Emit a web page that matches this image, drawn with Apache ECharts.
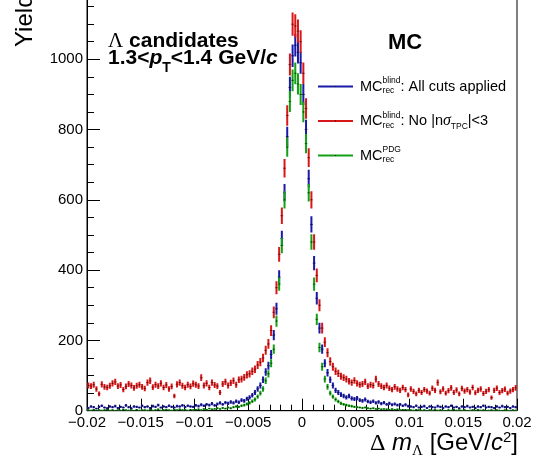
<!DOCTYPE html>
<html><head><meta charset="utf-8">
<script src="https://cdn.jsdelivr.net/npm/echarts@6/dist/echarts.min.js"></script>
<style>html,body{margin:0;padding:0;background:#fff}#c{width:537px;height:466px}</style>
</head><body><div id="c"></div>
<script>
// ---- data ----
const binLow = -0.02, binWidth = 0.00025;
const xTickLabels = ['\u22120.02','\u22120.015','\u22120.01','\u22120.005','0','0.005','0.01','0.015','0.02'];
const yTickLabels = ['0','200','400','600','800','1000',''];
const blueVals = [
 8,12,10,6,11,14,9,7,12,10, 13,8,11,9,15,10,7,12,11,9, 14,10,12,8,13,11,16,9,12,10, 14,11,9,13,12,15,10,14,12,11,
 15,13,17,14,18,16,20,15,19,22, 18,23,21,25,22,27,24,30,28,34,
 38,44,52,62,72,88,110,128,160,215, 290,380,490,620,780,920,1010,1040,1020,990, 900,800,660,530,420,320,235,175,135,108, 88,72,58,52,46,42,
 38,42,35,33,36,30,28,32,26,24, 27,22,25,20,23,18,21,17,19,16, 18,14,17,13,
 12,10,14,9,11,13,8,12,10,9, 13,11,8,12,10,14,9,11,7,12, 10,13,9,11,8,12,10,14,9,11, 10,8,12,9,13,10,11,8,12,10
];
const redVals = [
 72,70,74,62,48,75,68,66,71,78, 82,70,73,60,69,76,72,65,71,74, 68,63,80,85,67,74,70,78,66,73, 62,69,42,75,80,71,66,74,69,77,
 74,70,94,72,78,66,80,73,70,52, 76,82,72,79,85,74,88,90,95,102,
 105,112,118,130,138,150,172,190,228,280, 350,445,555,690,840,985,1100,1095,1080,1050, 960,860,720,600,480,385,300,235,195,165, 140,125,112,106,98,94,
 90,84,80,86,78,74,76,82,70,74, 72,90,76,70,66,72,64,60,68,62, 58,66,60,45,
 62,55,48,58,52,60,56,50,64,58, 80,54,62,50,57,65,52,59,48,63, 56,60,53,66,51,58,62,49,55,60, 37,58,64,52,57,61,50,56,60,65
];
const greenVals = [
 2,1,3,0,2,1,2,3,1,2, 0,2,1,3,2,1,2,0,3,1, 2,2,1,3,1,2,4,1,2,3, 2,1,3,2,4,2,3,1,3,2,
 3,4,2,5,3,6,4,5,7,5, 8,6,9,7,10,12,11,14,16,19,
 22,27,32,40,50,62,85,105,135,175, 255,360,470,600,750,880,940,960,930,900, 850,760,620,480,360,260,180,125,90,68, 50,40,32,26,21,18,
 16,14,13,11,10,9,8,9,7,6, 7,5,6,4,5,4,3,5,3,4, 2,3,3,2,
 2,1,3,2,1,2,0,2,1,3, 1,2,1,0,2,1,3,1,2,1, 2,0,1,2,1,3,1,2,0,1, 2,1,2,1,0,2,1,1,2,1
];
const seriesNames = ['All cuts applied', 'No n sigma TPC cut', 'PDG'];
const colors = {blue:'#1a1aa8', red:'#d81818', green:'#14a014'};

// ---- helpers ----
function toData(vals){
  return vals.map((v,i)=>[binLow + (i+0.5)*binWidth, v, Math.sqrt(v)]);
}
function makeRender(color){
  return function(params, api){
    const x = api.value(0), y = api.value(1), e = api.value(2);
    const c = api.coord([x, y]);
    const t = api.coord([x, y + e]);
    const b = api.coord([x, y - e]);
    const hw = api.size([binWidth, 0])[0] / 2;
    return {type:'group', children:[
      {type:'line', shape:{x1:c[0], y1:t[1], x2:c[0], y2:b[1]}, style:{stroke:color, lineWidth:2}},
      {type:'line', shape:{x1:c[0]-hw, y1:c[1], x2:c[0]+hw, y2:c[1]}, style:{stroke:color, lineWidth:1}},
      {type:'rect', shape:{x:c[0]-0.5, y:c[1]-0.5, width:1, height:1}, style:{fill:'#111'}}
    ]};
  };
}
const mctx = document.createElement('canvas').getContext('2d');
function fontStr(p){ return (p.style||'normal')+' '+(p.weight||'normal')+' '+p.size+'px '+(p.family||'"Liberation Sans"'); }
function measure(p){ mctx.font = fontStr(p); return mctx.measureText(p.t).width; }
function run(pieces, x0){
  let x = x0; const out = [];
  for (const p of pieces){
    out.push({type:'text', x:x, y:p.y, silent:true, style:{text:p.t, font:fontStr(p), fill:'#000', align:'left', verticalAlign:'middle'}});
    const w = measure(p);
    if (!p.noAdv) { x += Math.max(w, p.minW||0); }
  }
  return out;
}
function runWidth(pieces){ let w=0; for(const p of pieces){ if(!p.noAdv) w+=Math.max(measure(p), p.minW||0);} return w; }

const SERIF = '"Liberation Serif"';
const graphics = [];
// Lambda candidates block
graphics.push(...run([
  {t:'\u039B', size:21, family:SERIF, y:41},
  {t:' candidates', size:21, weight:'bold', y:41}
], 108));
graphics.push(...run([
  {t:'1.3<', size:21, weight:'bold', y:58.5},
  {t:'p', size:21, weight:'bold', style:'italic', y:58.5},
  {t:'T', size:14, weight:'bold', y:68.5},
  {t:'<1.4 GeV/', size:21, weight:'bold', y:58.5},
  {t:'c', size:21, weight:'bold', style:'italic', y:58.5}
], 108));
graphics.push(...run([{t:'MC', size:22, weight:'bold', y:42.5}], 388));

// legend
function legendEntry(yMid, supText, tail){
  const wSup = measure({t:supText,size:8.5}), wRec = measure({t:'rec',size:8.5});
  const pieces = [
    {t:'MC', size:14.5, y:yMid},
    {t:supText, size:8.5, y:yMid-5.5, noAdv:true},
    {t:'rec', size:8.5, y:yMid+4.5, minW:Math.max(wSup,wRec)}
  ].concat(tail.map(p=>Object.assign({}, p, {y: yMid + (p.dy||0)})));
  return run(pieces, 360);
}
graphics.push(...legendEntry(86.5, 'blind', [{t:': All cuts applied', size:14.5}]));
graphics.push(...legendEntry(121, 'blind', [
  {t:': No |n', size:14.5},
  {t:'\u03C3', size:16, family:SERIF, style:'italic'},
  {t:'TPC', size:8.5, dy:6},
  {t:'|<3', size:14.5}
]));
graphics.push(...legendEntry(155.5, 'PDG', []));
[[86.5,colors.blue],[121,colors.red],[155.5,colors.green]].forEach(([y,c])=>{
  graphics.push({type:'line', silent:true, shape:{x1:318,y1:y,x2:353,y2:y}, style:{stroke:c, lineWidth:2}});
  graphics.push({type:'rect', silent:true, shape:{x:335,y:y-0.5,width:1,height:1}, style:{fill:'#111'}});
});

// x-axis title, right aligned at 518
const xt = [
  {t:'\u0394', size:24, family:SERIF, y:443.5},
  {t:' ', size:24, y:443.5},
  {t:'m', size:24, style:'italic', y:443.5},
  {t:'\u039B', size:15, family:SERIF, y:451.5},
  {t:' [GeV/', size:24, y:443.5},
  {t:'c', size:24, style:'italic', y:443.5},
  {t:'2', size:15, y:437.5},
  {t:']', size:24, y:443.5}
];
graphics.push(...run(xt, 518 - runWidth(xt)));
// y-axis title (rotated)
graphics.push({type:'text', x:25, y:47, rotation:Math.PI/2, silent:true,
  style:{text:'Yield', font:'normal 24px "Liberation Sans"', fill:'#000', align:'left', verticalAlign:'middle'}});

const chart = echarts.init(document.getElementById('c'), null, {renderer:'canvas'});
chart.setOption({
  animation:false,
  backgroundColor:'#fff',
  grid:{left:87, right:20, top:-11, height:421.7, outerBoundsMode:'none', containLabel:false,
    show:true, borderColor:'#000', borderWidth:1, backgroundColor:'transparent'},
  xAxis:{type:'value', min:-0.02, max:0.02, interval:0.005,
    axisLine:{show:true, onZero:false, lineStyle:{color:'#000', width:1}},
    axisTick:{show:true, inside:true, length:12, lineStyle:{color:'#000'}},
    minorTick:{show:true, splitNumber:5, length:6, lineStyle:{color:'#000'}},
    splitLine:{show:false}, minorSplitLine:{show:false},
    axisLabel:{color:'#000', fontSize:15, fontFamily:'Liberation Sans', margin:5, showMinLabel:true, showMaxLabel:true,
      formatter:(v)=>xTickLabels[Math.round((v+0.02)/0.005)] || ''}
  },
  yAxis:{type:'value', min:0, max:1200, interval:200,
    axisLine:{show:true, onZero:false, lineStyle:{color:'#000', width:1}},
    axisTick:{show:true, inside:true, length:13, lineStyle:{color:'#000'}},
    minorTick:{show:true, splitNumber:4, length:7, lineStyle:{color:'#000'}},
    splitLine:{show:false},
    axisLabel:{color:'#000', fontSize:15, fontFamily:'Liberation Sans', margin:4,
      formatter:(v)=>yTickLabels[Math.round(v/200)] || ''}
  },
  series:[
    {type:'custom', name:seriesNames[0], data:toData(blueVals), renderItem:makeRender(colors.blue), clip:true, encode:{x:0,y:1}},
    {type:'custom', name:seriesNames[1], data:toData(redVals), renderItem:makeRender(colors.red), clip:true, encode:{x:0,y:1}},
    {type:'custom', name:seriesNames[2], data:toData(greenVals), renderItem:makeRender(colors.green), clip:true, encode:{x:0,y:1}}
  ],
  graphic:graphics
});
</script></body></html>
